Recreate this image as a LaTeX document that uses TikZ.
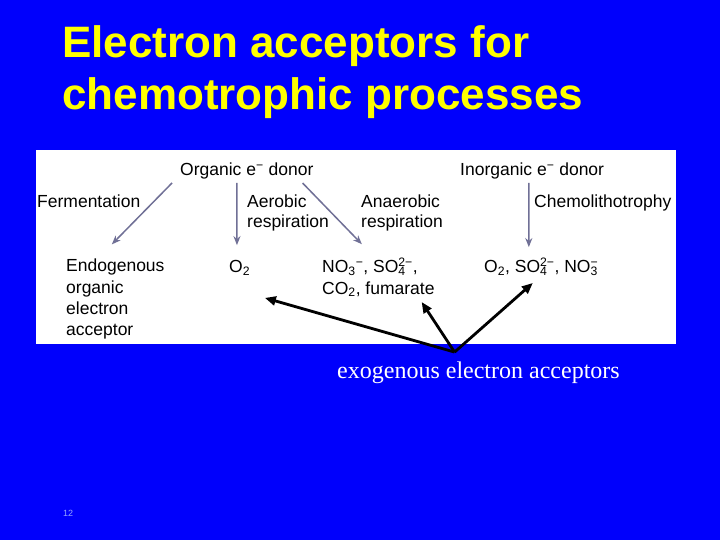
\documentclass[tikz,border=0pt]{standalone}
\usepackage{fontspec}
\setmainfont{Liberation Sans}
\newfontfamily\serifface{Liberation Serif}
\usetikzlibrary{arrows.meta}

\definecolor{slideblue}{RGB}{0,0,252}
\definecolor{titleyellow}{RGB}{255,255,0}
\definecolor{flowgray}{RGB}{112,112,150}
\definecolor{pagegray}{RGB}{150,165,255}

% subscript with a stacked superscript (SO4 2-)
\newcommand{\stackchg}[2]{\rlap{\textsubscript{#1}}\textsuperscript{#2}}

\tikzset{
  label/.style={inner sep=0, anchor=base west, font=\fontsize{17.5bp}{21bp}\selectfont, align=left},
  flow/.style={-{Stealth[length=9bp,width=7bp]}, draw=flowgray, line width=1.5bp},
  pointer/.style={-{Triangle[length=11bp,width=9bp]}, black, line width=2.8bp},
}

\begin{document}
\begin{tikzpicture}[x=1bp, y=1bp]
    \useasboundingbox (0,0) rectangle (720,-540);
    \fill[slideblue] (0,0) rectangle (720,-540);
    \fill[white] (36,-150) rectangle (676,-344);

    % multi-line nodes sit on the baseline of their last line
    \node[label, font=\fontsize{44bp}{52bp}\bfseries\selectfont, text=titleyellow] (title) at (62,-110) {Electron acceptors for\\chemotrophic processes};

    \node[label] (orgdonor) at (180,-176) {Organic e\textsuperscript{−} donor};
    \node[label] (inorgdonor) at (460,-176) {Inorganic e\textsuperscript{−} donor};

    \node[label] (ferm) at (37,-208) {Fermentation};
    \node[label, font=\fontsize{17.5bp}{20bp}\selectfont] (aerobic) at (247,-228) {Aerobic\\respiration};
    \node[label, font=\fontsize{17.5bp}{20bp}\selectfont] (anaerobic) at (361,-228) {Anaerobic\\respiration};
    \node[label] (chemo) at (534,-208) {Chemolithotrophy};

    \node[label] (endo) at (66,-335) {Endogenous\\organic\\electron\\acceptor};
    \node[label] (otwo) at (229,-273) {O\textsubscript{2}};
    \node[label] (anaccept) at (322,-294) {NO\textsubscript{3}\textsuperscript{−}, SO\stackchg{4}{2−},\\CO\textsubscript{2}, fumarate};
    \node[label] (chemoaccept) at (484,-273) {O\textsubscript{2}, SO\stackchg{4}{2−}, NO\stackchg{3}{−}};

    \node[label, font=\serifface\fontsize{24bp}{28bp}\selectfont, text=white] (exo) at (337,-378) {exogenous electron acceptors};
    \node[label, font=\fontsize{9bp}{10bp}\selectfont, text=pagegray] (pagenum) at (63,-516) {12};

    \draw[flow] ([xshift=-8pt,yshift=-7pt]orgdonor.base west) -- ([xshift=46pt,yshift=91pt]endo.base west);
    \draw[flow] ([xshift=57pt,yshift=-7pt]orgdonor.base west) -- ([xshift=8pt,yshift=28pt]otwo.base west);
    \draw[flow] ([xshift=123pt,yshift=-7pt]orgdonor.base west) -- ([xshift=40pt,yshift=50pt]anaccept.base west);
    \draw[flow] ([xshift=69pt,yshift=-7pt]inorgdonor.base west) -- ([xshift=45pt,yshift=26pt]chemoaccept.base west);

    \coordinate (hub) at ([xshift=118pt,yshift=26pt]exo.base west);
    \draw[pointer] (hub) -- ([xshift=36pt,yshift=-25pt]otwo.base west);
    \draw[pointer] (hub) -- ([xshift=100pt,yshift=-8pt]anaccept.base west);
    \draw[pointer] (hub) -- ([xshift=49pt,yshift=-10pt]chemoaccept.base west);
\end{tikzpicture}
\end{document}
